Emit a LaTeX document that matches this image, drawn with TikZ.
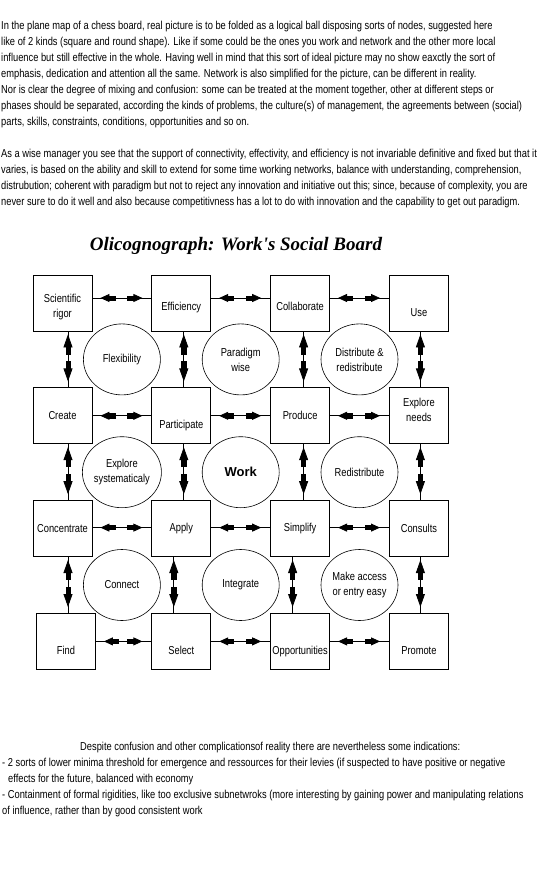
\documentclass[tikz,border=0pt]{standalone}
\usepackage{fontspec}
\setmainfont{Liberation Sans}
\newfontfamily\narrowsans[FakeStretch=0.81]{Liberation Sans}
\newfontfamily\titleserif{Liberation Serif}
\usetikzlibrary{positioning,arrows.meta,shapes.geometric,decorations.markings,calc}

\begin{document}
\begin{tikzpicture}[x=1pt, y=-1pt, node distance=56pt and 59pt,
  board/.style={draw, line width=0.8pt, minimum width=59pt, minimum height=56pt, inner sep=1pt, align=center, font=\narrowsans\fontsize{11.5}{15}\selectfont},
  ball/.style={draw, ellipse, line width=0.6pt, minimum width=77pt, minimum height=71pt, inner sep=0pt, align=center, font=\narrowsans\fontsize{11.5}{15}\selectfont},
  lowtext/.style={text height=#1, text depth=0pt},
  lowtext/.default=26pt,
  hlink/.style={line width=0.8pt, postaction={decorate}, decoration={markings,
    mark=at position 8pt with {\arrowreversed{Rectangle[length=6pt,width=5pt] Triangle[length=9pt,width=8pt]}},
    mark=at position -9pt with {\arrow{Rectangle[length=6pt,width=5pt] Triangle[length=9pt,width=8pt]}}}},
  vlink/.style={line width=0.8pt, postaction={decorate}, decoration={markings,
    mark=at position 3pt with {\arrowreversed{Rectangle[length=7pt,width=5pt] Triangle[length=13pt,width=9pt]}},
    mark=at position -6pt with {\arrow{Rectangle[length=7pt,width=5pt] Triangle[length=13pt,width=9pt]}}}},
  prose/.style={anchor=north west, align=left, inner sep=0pt, font=\narrowsans\fontsize{11.5}{16}\selectfont}]
\useasboundingbox (0,0) rectangle (545,877);

% text above the board
\node[prose] (intro) at (1,20.5) {In the plane map of a chess board, real picture is to be folded as a logical ball disposing sorts of nodes, suggested here\\
like of 2 kinds (square and round shape). Like if some could be the ones you work and network and the other more local\\
influence but still effective in the whole. Having well in mind that this sort of ideal picture may no show eaxctly the sort of\\
emphasis, dedication and attention all the same. Network is also simplified for the picture, can be different in reality.\\
Nor is clear the degree of mixing and confusion: some can be treated at the moment together, other at different steps or\\
phases should be separated, according the kinds of problems, the culture(s) of management, the agreements between (social)\\
parts, skills, constraints, conditions, opportunities and so on.};
\node[prose] (manager) at (1,148.5) {As a wise manager you see that the support of connectivity, effectivity, and efficiency is not invariable definitive and fixed but that it\\
varies, is based on the ability and skill to extend for some time working networks, balance with understanding, comprehension,\\
distrubution; coherent with paradigm but not to reject any innovation and initiative out this; since, because of complexity, you are\\
never sure to do it well and also because competitivness has a lot to do with innovation and the capability to get out paradigm.};

\node[anchor=base, font=\titleserif\bfseries\itshape\fontsize{19}{22}\selectfont] (title) at (236,251) {Olicognograph: Work\textquotesingle s Social Board};

% square nodes
\node[board, text height=31.4pt] (sci) at (62.5,303) {Scientific\\rigor};
\node[board, right=of sci, lowtext=14pt] (eff) {Efficiency};
\node[board, right=of eff, lowtext=14pt] (coll) {Collaborate};
\node[board, right=of coll, lowtext] (use) {Use};
\node[board, below=of sci] (cre) {Create};
\node[board, right=of cre, lowtext] (part) {Participate};
\node[board, right=of part] (prod) {Produce};
\node[board, right=of prod, text height=11.4pt] (expl) {Explore\\needs};
\node[board, below=of cre] (conc) {Concentrate};
\node[board, right=of conc] (app) {Apply};
\node[board, right=of app] (simp) {Simplify};
\node[board, right=of simp] (cons) {Consults};
\node[board, below=of conc, xshift=3.5pt, lowtext] (find) {Find};
\node[board, below=of app, lowtext] (sel) {Select};
\node[board, below=of simp, lowtext] (opp) {Opportunities};
\node[board, below=of cons, lowtext] (prom) {Promote};

% round nodes
\node[ball] (flex) at ($(sci)!0.5!(part)$) {Flexibility};
\node[ball] (parad) at ($(eff)!0.5!(prod)$) {Paradigm\\wise};
\node[ball] (distr) at ($(coll)!0.5!(expl)$) {Distribute \&\\redistribute};
\node[ball] (explsys) at ($(cre)!0.5!(app)$) {Explore\\systematicaly};
\node[ball, font=\bfseries\fontsize{13}{15}\selectfont] (work) at ($(part)!0.5!(simp)$) {Work};
\node[ball] (redis) at ($(prod)!0.5!(cons)$) {Redistribute};
\node[ball] (conn) at ($(conc)!0.5!(sel)$) {Connect};
\node[ball] (integ) at ($(app)!0.5!(opp)$) {Integrate};
\node[ball] (access) at ($(simp)!0.5!(prom)$) {Make access\\or entry easy};

% links
\foreach \a/\b/\d in {sci/eff/5, eff/coll/5, coll/use/5, cre/part/0, part/prod/0, prod/expl/0,
    conc/app/1, app/simp/1, simp/cons/1, find/sel/0, sel/opp/0, opp/prom/0}
  \draw[hlink] ([yshift=\d pt]\a.east) -- ([yshift=\d pt]\a.east -| \b.west);
\foreach \a/\b/\d in {sci/cre/5.5, cre/conc/5.5, conc/find/5.5, eff/part/2.5, part/app/2.5, app/sel/-7.5,
    coll/prod/3.5, prod/simp/3.5, simp/opp/-7.5, use/expl/1.5, expl/cons/1.5, cons/prom/1.5}
  \draw[vlink] ([xshift=\d pt]\a.south) -- ([xshift=\d pt]\a.south |- \b.north);

% text below the board
\node[prose] (hints) at (2,742) {\hspace*{78pt}Despite confusion and other complicationsof reality there are nevertheless some indications:\\
- 2 sorts of lower minima threshold for emergence and ressources for their levies (if suspected to have positive or negative\\
\hspace*{6pt}effects for the future, balanced with economy\\
- Containment of formal rigidities, like too exclusive subnetwroks (more interesting by gaining power and manipulating relations\\
of influence, rather than by good consistent work};
\end{tikzpicture}
\end{document}
